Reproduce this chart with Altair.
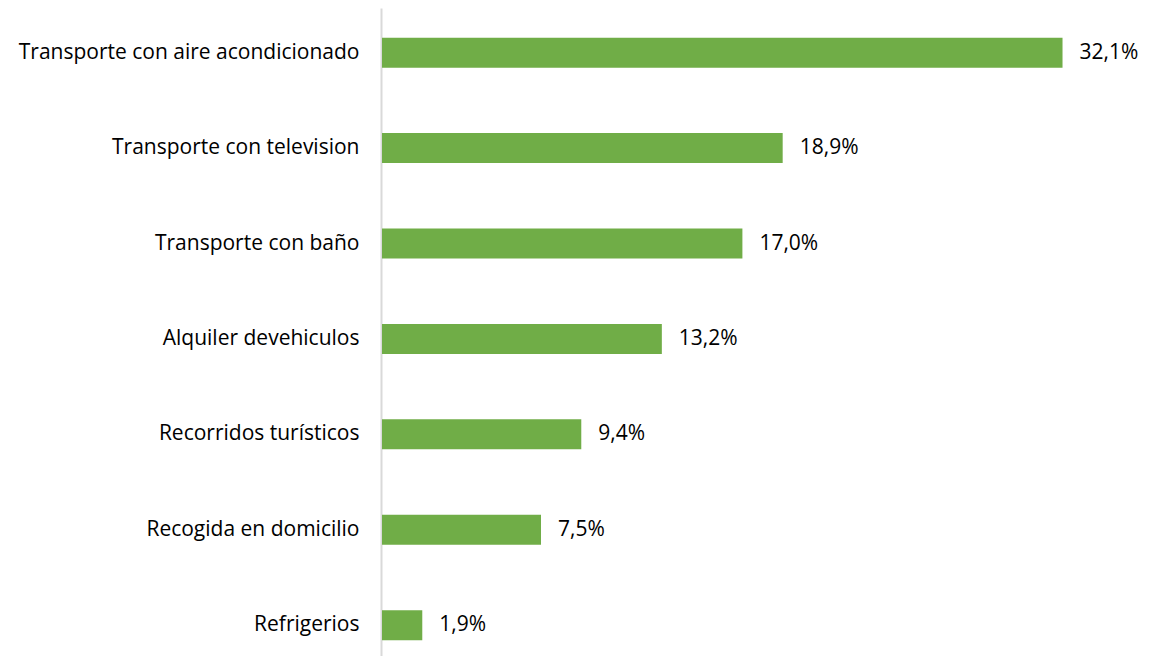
import altair as alt
import pandas as pd

categories = [
    "Transporte con aire acondicionado",
    "Transporte con television",
    "Transporte con baño",
    "Alquiler devehiculos",
    "Recorridos turísticos",
    "Recogida en domicilio",
    "Refrigerios",
]
values = [32.1, 18.9, 17.0, 13.2, 9.4, 7.5, 1.9]
labels = ["32,1%", "18,9%", "17,0%", "13,2%", "9,4%", "7,5%", "1,9%"]

df = pd.DataFrame({"cat": categories, "val": values, "lab": labels})

FONT = "Open Sans"
FS = 21

y_enc = alt.Y(
    "cat:N",
    sort=categories,
    title=None,
    scale=alt.Scale(paddingInner=0.6855, paddingOuter=0.2388, align=0.652),
    axis=alt.Axis(
        ticks=False,
        domain=True,
        domainColor="#d9d9d9",
        domainWidth=2,
        offset=1,
        labelPadding=22,
        labelFont=FONT,
        labelFontSize=FS,
        labelColor="#000000",
        labelLimit=400,
    ),
)
x_enc = alt.X(
    "val:Q",
    scale=alt.Scale(domain=[0, 35], nice=False),
    axis=None,
)

bars = alt.Chart(df).mark_bar(color="#70AD47").encode(x=x_enc, y=y_enc)
text = alt.Chart(df).mark_text(
    align="left", baseline="middle", dx=17, font=FONT, fontSize=FS, color="#000000"
).encode(x=x_enc, y=y_enc, text="lab:N")

chart = (
    (bars + text)
    .properties(width=742, height=648, padding={"left": 374, "top": 0, "right": 18, "bottom": 0})
    .configure(autosize=alt.AutoSizeParams(type="none"))
    .configure_view(stroke=None)
)

chart.save("out.html", embed_options={"renderer": "svg", "actions": False})
